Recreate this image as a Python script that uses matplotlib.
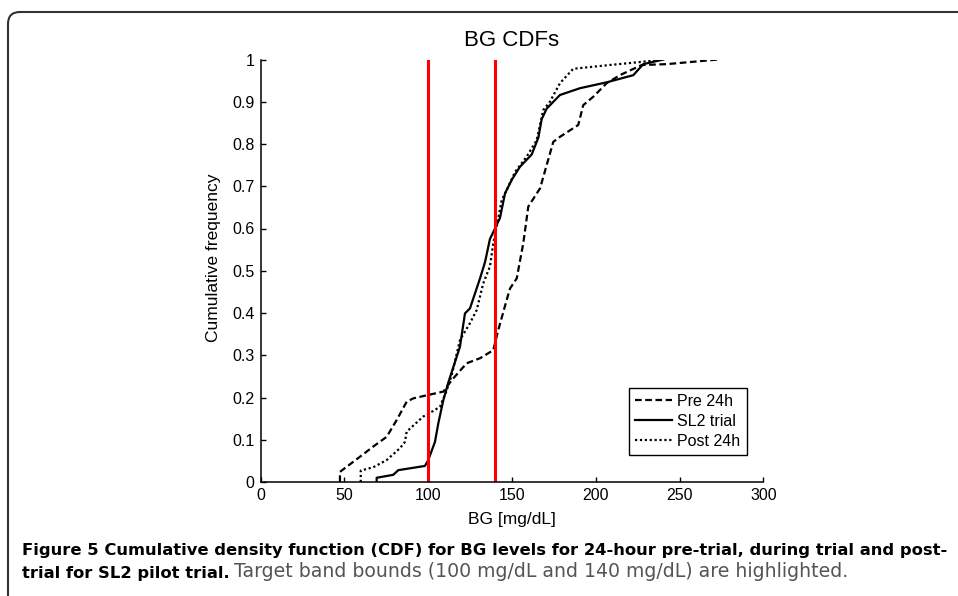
import matplotlib
matplotlib.use('Agg')
import matplotlib.pyplot as plt
from matplotlib.patches import FancyBboxPatch

# values (BG in mg/dL, cumulative frequency)
pre_bg = [47.3, 47.3, 49.3, 59.3, 67.2, 75.2, 81.2, 87.1, 91.1, 100.0, 109.0, 114.0,
          122.9, 130.9, 138.8, 141.8, 146.8, 148.8, 152.8, 156.7, 159.7, 166.7, 174.6,
          178.6, 189.5, 192.5, 198.5, 206.5, 214.4, 227.4, 242.3, 273.1]
pre_cdf = [0.0, 0.024, 0.030, 0.060, 0.084, 0.107, 0.147, 0.190, 0.198, 0.206, 0.214, 0.241,
           0.281, 0.293, 0.312, 0.360, 0.431, 0.458, 0.482, 0.565, 0.652, 0.695, 0.805,
           0.817, 0.845, 0.892, 0.912, 0.944, 0.963, 0.987, 0.989, 1.0]

sl2_bg = [69.2, 69.2, 79.1, 82.1, 98.0, 100.0, 104.0, 106.0, 109.0, 112.0, 118.9, 121.9,
          124.9, 130.9, 133.9, 136.8, 139.8, 142.8, 145.8, 149.8, 154.7, 161.7, 165.7,
          167.7, 170.7, 178.6, 190.5, 206.5, 222.4, 228.3, 240.3]
sl2_cdf = [0.0, 0.010, 0.017, 0.028, 0.038, 0.052, 0.095, 0.139, 0.194, 0.236, 0.320, 0.399,
           0.411, 0.482, 0.521, 0.575, 0.600, 0.625, 0.683, 0.715, 0.746, 0.775, 0.815,
           0.859, 0.884, 0.916, 0.932, 0.946, 0.963, 0.989, 1.0]

post_bg = [59.7, 59.7, 67.2, 75.2, 83.1, 86.1, 87.1, 97.0, 102.0, 107.0, 109.0, 110.0,
           114.0, 118.9, 124.9, 128.9, 132.8, 136.8, 138.8, 140.8, 143.8, 146.8, 151.8,
           158.7, 164.7, 168.6, 172.6, 178.6, 186.5, 208.4, 226.4, 240.3]
post_cdf = [0.0, 0.027, 0.035, 0.052, 0.080, 0.095, 0.119, 0.155, 0.166, 0.178, 0.198, 0.205,
            0.253, 0.336, 0.376, 0.407, 0.470, 0.510, 0.565, 0.604, 0.667, 0.691, 0.734,
            0.770, 0.809, 0.880, 0.900, 0.944, 0.978, 0.987, 0.994, 1.0]

bounds = [100, 140]
xticks = [0, 50, 100, 150, 200, 250, 300]
yticks = [0, 0.1, 0.2, 0.3, 0.4, 0.5, 0.6, 0.7, 0.8, 0.9, 1]
ylabels = ['0', '0.1', '0.2', '0.3', '0.4', '0.5', '0.6', '0.7', '0.8', '0.9', '1']

plt.rcParams['font.family'] = ['Liberation Sans', 'DejaVu Sans']

fig = plt.figure(figsize=(9.58, 5.96), dpi=100)
ax = fig.add_axes([260.7 / 958, 1 - 482 / 596, 502.7 / 958, 422.5 / 596])

ax.plot(pre_bg, pre_cdf, color='k', lw=1.6, ls=(0, (3, 1.6)), label='Pre 24h')
ax.plot(sl2_bg, sl2_cdf, color='k', lw=1.6, ls='-', label='SL2 trial')
ax.plot(post_bg, post_cdf, color='k', lw=1.6, ls=(0, (1, 1.2)), label='Post 24h')
for b in bounds:
    ax.plot([b, b], [0, 1], color='#ff0000', lw=2.2)

ax.set_xlim(0, 300)
ax.set_ylim(0, 1)
ax.set_xticks(xticks)
ax.set_yticks(yticks)
ax.set_yticklabels(ylabels)
ax.spines['top'].set_visible(False)
ax.spines['right'].set_visible(False)
ax.spines['left'].set_linewidth(1.1)
ax.spines['bottom'].set_linewidth(1.1)
ax.tick_params(direction='in', length=3.6, width=1, labelsize=11.5, pad=4.5)

ax.set_title('BG CDFs', fontsize=16, pad=10)
ax.set_xlabel('BG [mg/dL]', fontsize=12.5)
ax.set_ylabel('Cumulative frequency', fontsize=12.5)
ax.xaxis.label.set_va('center')
ax.yaxis.label.set_va('center')
ax.xaxis.set_label_coords(0.5, -0.0876)
ax.yaxis.set_label_coords(-0.093, 0.53)

leg = ax.legend(loc='lower right', bbox_to_anchor=(0.967, 0.064), borderaxespad=0,
                fontsize=11.5, fancybox=False, edgecolor='k', framealpha=1,
                handlelength=2.3, handletextpad=0.35, borderpad=0.4, labelspacing=0.3)
leg.get_frame().set_linewidth(1.0)

# rounded frame around the figure panel
frame = FancyBboxPatch((0.08, -1.0), 10, 6.84, boxstyle='round,pad=0,rounding_size=0.12',
                       transform=fig.dpi_scale_trans, fill=False, ec='#333333', lw=1.5)
fig.add_artist(frame)

cap_font = ['DejaVu Sans']
fig.text(22 / 958, 1 - 555 / 596,
         'Figure 5 Cumulative density function (CDF) for BG levels for 24-hour pre-trial, during trial and post-',
         family=cap_font, fontweight='bold', fontsize=11.8, va='baseline')
t2 = fig.text(22 / 958, 1 - 578 / 596, 'trial for SL2 pilot trial.',
              family=cap_font, fontweight='bold', fontsize=11.8, va='baseline')
ax.annotate('Target band bounds (100 mg/dL and 140 mg/dL) are highlighted.',
            xy=(1, 0), xycoords=t2, xytext=(3, 0), textcoords='offset points',
            va='bottom', ha='left', family=cap_font, fontsize=13.6, color='#555555')

fig.savefig('out.png', dpi=100)
